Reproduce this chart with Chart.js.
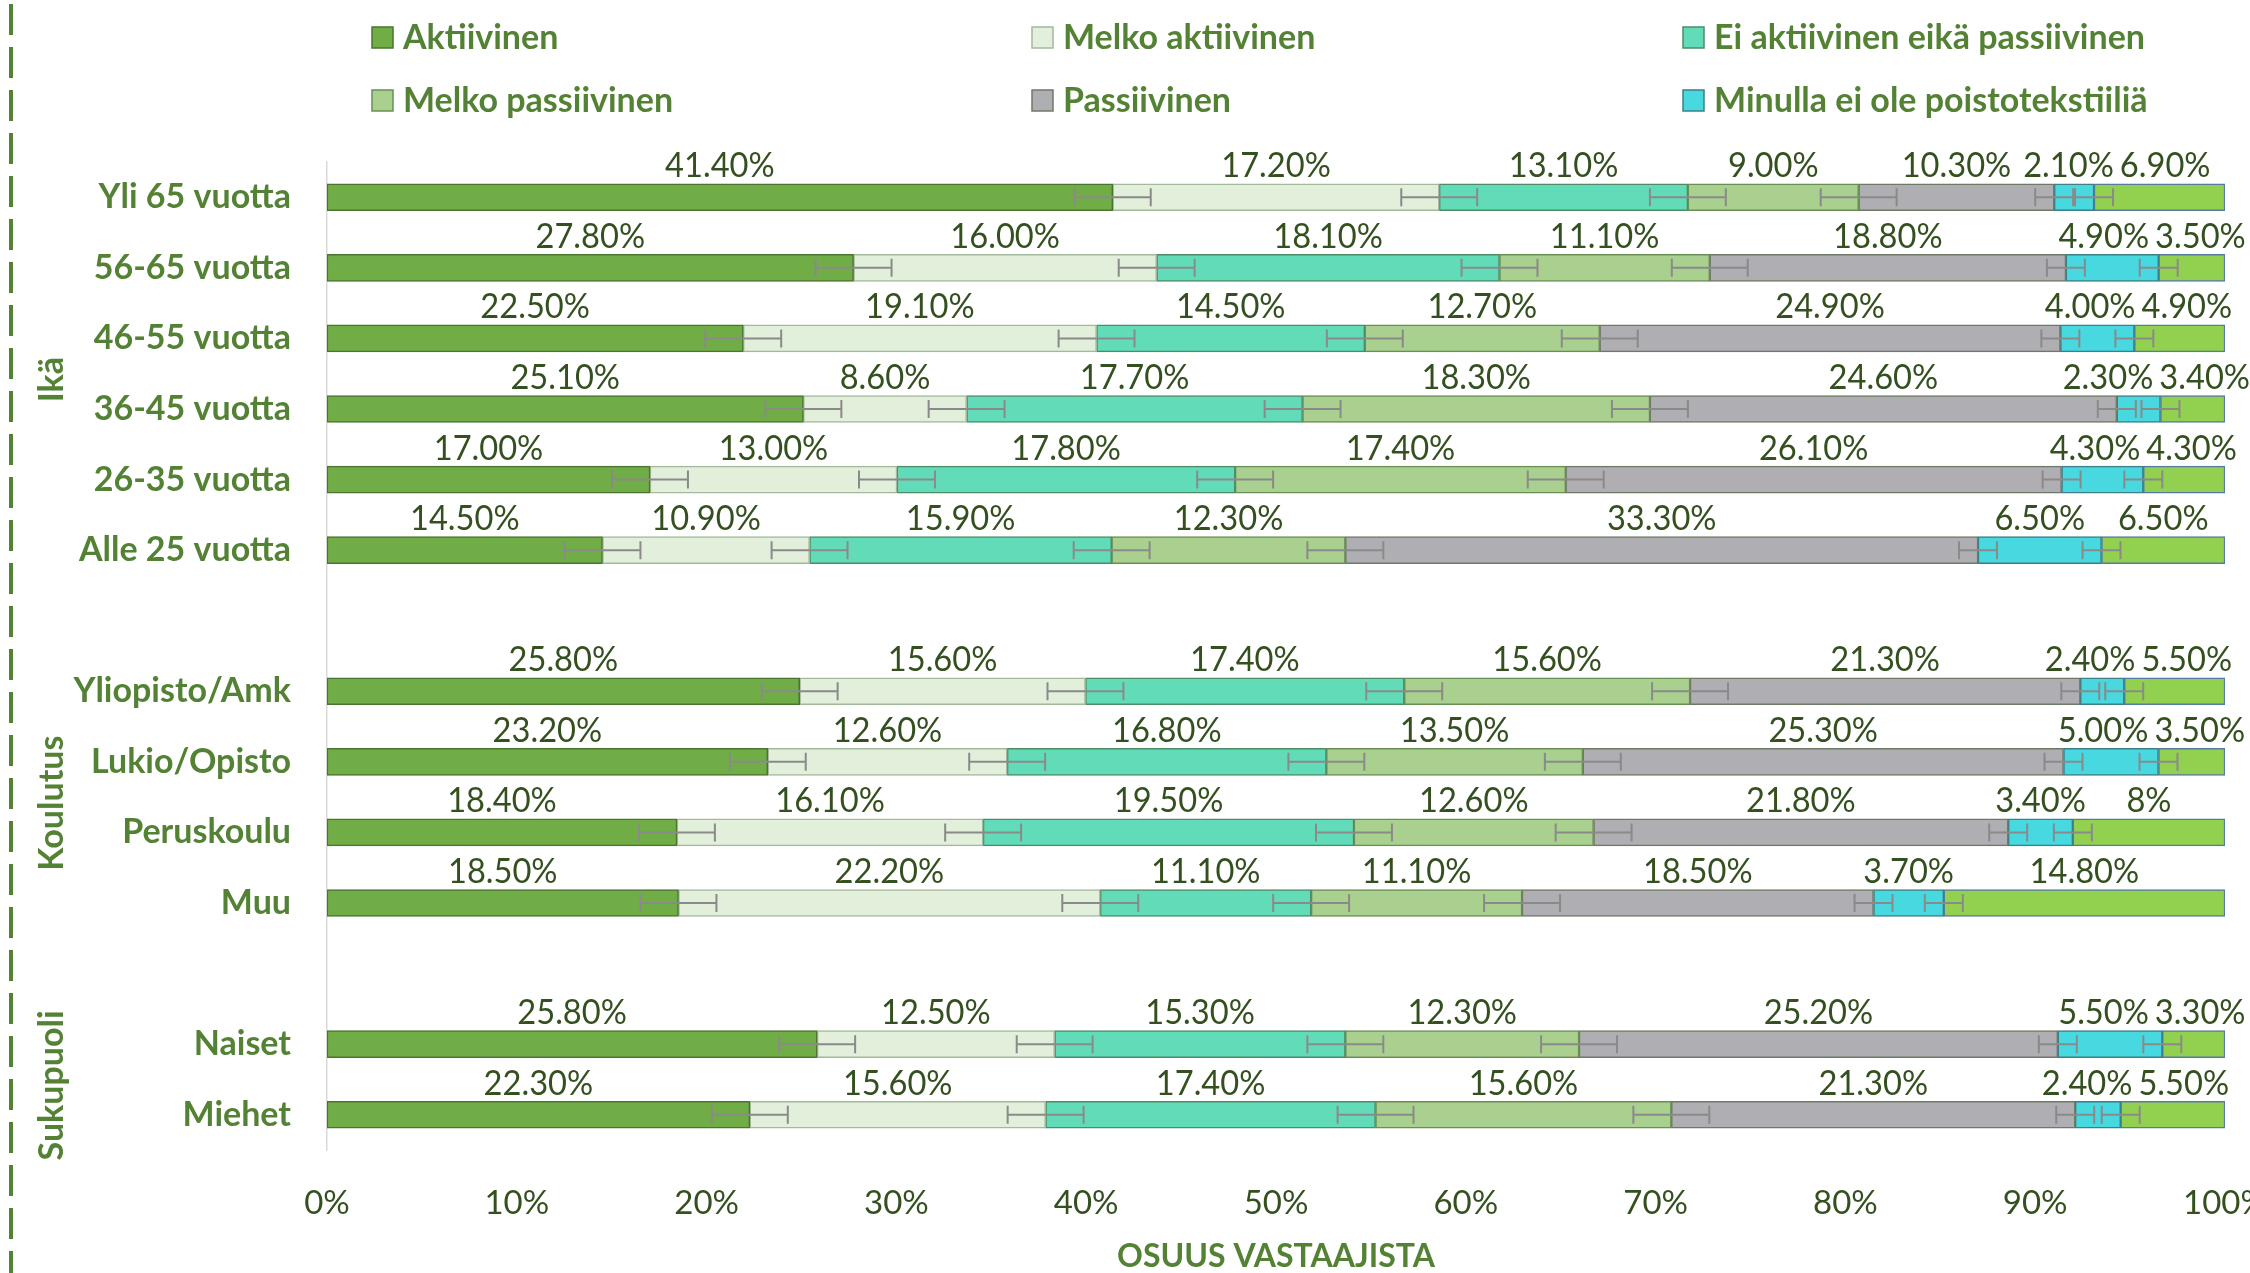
<!DOCTYPE html>
<html>
<head>
<meta charset="utf-8">
<script src="https://cdn.jsdelivr.net/npm/chart.js@4.4.1/dist/chart.umd.min.js"></script>
<style>
  html, body { margin: 0; padding: 0; background: #fff; overflow: hidden; }
  canvas { display: block; }
</style>
</head>
<body>
<canvas id="chart" width="2250" height="1273"></canvas>
<script>
// rows top to bottom, '' = empty spacer row between groups
const categories = ['Yli 65 vuotta', '56-65 vuotta', '46-55 vuotta', '36-45 vuotta', '26-35 vuotta', 'Alle 25 vuotta', '',
    'Yliopisto/Amk', 'Lukio/Opisto', 'Peruskoulu', 'Muu', '',
    'Naiset', 'Miehet'];

const aktiivinen        = [41.4, 27.8, 22.5, 25.1, 17.0, 14.5, null, 25.8, 23.2, 18.4, 18.5, null, 25.8, 22.3];
const melkoAktiivinen   = [17.2, 16.0, 19.1, 8.6, 13.0, 10.9, null, 15.6, 12.6, 16.1, 22.2, null, 12.5, 15.6];
const eiAktEikaPass     = [13.1, 18.1, 14.5, 17.7, 17.8, 15.9, null, 17.4, 16.8, 19.5, 11.1, null, 15.3, 17.4];
const melkoPassiivinen  = [9.0, 11.1, 12.7, 18.3, 17.4, 12.3, null, 15.6, 13.5, 12.6, 11.1, null, 12.3, 15.6];
const passiivinen       = [10.3, 18.8, 24.9, 24.6, 26.1, 33.3, null, 21.3, 25.3, 21.8, 18.5, null, 25.2, 21.3];
const eiPoistotekstiilia = [2.1, 4.9, 4.0, 2.3, 4.3, 6.5, null, 2.4, 5.0, 3.4, 3.7, null, 5.5, 2.4];
const enOsaaSanoa       = [6.9, 3.5, 4.9, 3.4, 4.3, 6.5, null, 5.5, 3.5, 8, 14.8, null, 3.3, 5.5];

// error bar half widths (percentage points) per series
const errorMargins = [2, 2, 2, 2, 1, 1, 0];

const groups = [
    { name: 'Ikä', from: 0, to: 5 },
    { name: 'Koulutus', from: 7, to: 10 },
    { name: 'Sukupuoli', from: 12, to: 13 }
];

const series = [
    { label: 'Aktiivinen', data: aktiivinen, color: '#70AD47', border: '#4A7530' },
    { label: 'Melko aktiivinen', data: melkoAktiivinen, color: '#E2EFDA', border: '#A4B89C' },
    { label: 'Ei aktiivinen eikä passiivinen', data: eiAktEikaPass, color: '#62DCB8', border: '#4E8C68' },
    { label: 'Melko passiivinen', data: melkoPassiivinen, color: '#A9D08E', border: '#6A8F55' },
    { label: 'Passiivinen', data: passiivinen, color: '#AEAEB3', border: '#6F7A66' },
    { label: 'Minulla ei ole poistotekstiiliä', data: eiPoistotekstiilia, color: '#47D8E0', border: '#3C7F86' },
    { label: 'En osaa sanoa', data: enOsaaSanoa, color: '#92D050', border: '#557BA0', hideLegend: true }
];

const GREEN = '#548235';
const DARK = '#34501F';
const FONT = 'Lato, "Open Sans", sans-serif';
const LABEL_SQUEEZE = 0.96;

// 100 % stacked: every row is scaled to its own total
const rowTotals = categories.map((c, j) => series.reduce((s, d) => s + (d.data[j] || 0), 0));
const datasets = series.map(s => ({
    label: s.label,
    data: s.data.map((v, j) => v == null ? null : v / rowTotals[j] * 100),
    raw: s.data,
    backgroundColor: s.color,
    borderColor: s.border,
    borderWidth: 1.5,
    borderSkipped: false,
    barThickness: 27
}));

function formatValue(v, dsIndex) {
    // the last series shows whole numbers without decimals (e.g. "8%")
    if (dsIndex === series.length - 1 && Number.isInteger(v)) return v + '%';
    return v.toFixed(2) + '%';
}

const decorations = {
    id: 'decorations',
    afterDatasetsDraw(chart) {
        const { ctx, scales: { x } } = chart;
        ctx.save();
        // error bars at the end of each segment
        ctx.strokeStyle = '#8A8A8A';
        ctx.lineWidth = 2;
        chart.data.datasets.forEach((ds, i) => {
            const m = errorMargins[i];
            if (!m) return;
            const w = x.getPixelForValue(m) - x.getPixelForValue(0);
            chart.getDatasetMeta(i).data.forEach((bar, j) => {
                if (ds.data[j] == null) return;
                ctx.beginPath();
                ctx.moveTo(bar.x - w, bar.y);
                ctx.lineTo(bar.x + w, bar.y);
                ctx.moveTo(bar.x - w, bar.y - 9);
                ctx.lineTo(bar.x - w, bar.y + 9);
                ctx.moveTo(bar.x + w, bar.y - 9);
                ctx.lineTo(bar.x + w, bar.y + 9);
                ctx.stroke();
            });
        });

        // value labels above segments, nudged apart where they would collide
        ctx.fillStyle = DARK;
        ctx.font = '34px ' + FONT;
        ctx.textAlign = 'center';
        ctx.textBaseline = 'alphabetic';
        const gap = 6;
        categories.forEach((c, j) => {
            const items = [];
            chart.data.datasets.forEach((ds, i) => {
                if (ds.raw[j] == null) return;
                const bar = chart.getDatasetMeta(i).data[j];
                const text = formatValue(ds.raw[j], i);
                items.push({ text, cx: (bar.x + bar.base) / 2, y: bar.y - 20, w: ctx.measureText(text).width * LABEL_SQUEEZE });
            });
            if (!items.length) return;
            for (let pass = 0; pass < 10; pass++) {
                for (let k = 0; k < items.length - 1; k++) {
                    const a = items[k], b = items[k + 1];
                    const overlap = (a.cx + a.w / 2 + gap) - (b.cx - b.w / 2);
                    if (overlap > 0) { a.cx -= overlap / 2; b.cx += overlap / 2; }
                }
            }
            let limit = chart.width;
            for (let k = items.length - 1; k >= 0; k--) {
                const it = items[k];
                if (it.cx + it.w / 2 > limit) it.cx = limit - it.w / 2;
                limit = it.cx - it.w / 2 - gap;
            }
            items.forEach(it => {
                ctx.save();
                ctx.translate(it.cx, it.y);
                ctx.scale(LABEL_SQUEEZE, 1);
                ctx.fillText(it.text, 0, 0);
                ctx.restore();
            });
        });
        ctx.restore();
    },
    afterDraw(chart) {
        const { ctx, scales: { y } } = chart;
        ctx.save();
        // legend, 3 columns x 2 rows
        const cols = [372, 1032, 1683];
        const rows = [37, 100];
        ctx.font = 'bold 34px ' + FONT;
        ctx.textBaseline = 'middle';
        ctx.textAlign = 'left';
        let k = 0;
        chart.data.datasets.forEach((ds, i) => {
            if (series[i].hideLegend) return;
            const cx = cols[k % 3], cy = rows[Math.floor(k / 3)];
            ctx.fillStyle = ds.backgroundColor;
            ctx.fillRect(cx, cy - 10, 21, 21);
            ctx.strokeStyle = ds.borderColor;
            ctx.lineWidth = 1.5;
            ctx.strokeRect(cx, cy - 10, 21, 21);
            ctx.fillStyle = GREEN;
            ctx.fillText(ds.label, cx + 31, cy + 1);
            k++;
        });
        // group titles
        groups.forEach(g => {
            const cy = (y.getPixelForValue(g.from) + y.getPixelForValue(g.to)) / 2;
            ctx.save();
            ctx.translate(52, cy + 6);
            ctx.rotate(-Math.PI / 2);
            ctx.textAlign = 'center';
            ctx.fillStyle = GREEN;
            ctx.font = 'bold 34px ' + FONT;
            ctx.fillText(g.name, 0, 0);
            ctx.restore();
        });
        // dashed frame line on the left
        ctx.strokeStyle = GREEN;
        ctx.lineWidth = 4;
        ctx.setLineDash([31, 12]);
        ctx.lineDashOffset = -4;
        ctx.beginPath();
        ctx.moveTo(11, 0);
        ctx.lineTo(11, chart.height);
        ctx.stroke();
        ctx.restore();
    }
};

new Chart(document.getElementById('chart'), {
    type: 'bar',
    data: { labels: categories, datasets },
    options: {
        indexAxis: 'y',
        responsive: false,
        animation: false,
        layout: { padding: { top: 162, right: 25, bottom: 0, left: 0 } },
        plugins: { legend: { display: false }, tooltip: { enabled: false } },
        scales: {
            x: {
                stacked: true,
                min: 0,
                max: 100,
                grid: { display: false, drawTicks: false },
                border: { display: false },
                ticks: {
                    stepSize: 10,
                    autoSkip: false,
                    maxRotation: 0,
                    padding: 34,
                    color: DARK,
                    font: { family: FONT, size: 33 },
                    callback: v => v + '%'
                },
                title: {
                    display: true,
                    text: 'OSUUS VASTAAJISTA',
                    color: GREEN,
                    font: { family: FONT, size: 32, weight: 'bold', lineHeight: 1 },
                    padding: { top: 0, bottom: 0 }
                },
                afterFit(scale) {
                    scale.height = 123;
                    scale.paddingLeft = 0;
                    scale.paddingRight = 0;
                }
            },
            y: {
                stacked: true,
                grid: { color: 'transparent', drawTicks: false },
                border: { display: true, color: '#D9D9D9', width: 1.5 },
                ticks: {
                    autoSkip: false,
                    padding: 36,
                    color: GREEN,
                    font: { family: FONT, size: 34, weight: 'bold' }
                },
                afterFit(scale) {
                    scale.width = 327;
                    scale.paddingTop = 0;
                    scale.paddingBottom = 0;
                }
            }
        }
    },
    plugins: [decorations]
});
</script>
</body>
</html>
